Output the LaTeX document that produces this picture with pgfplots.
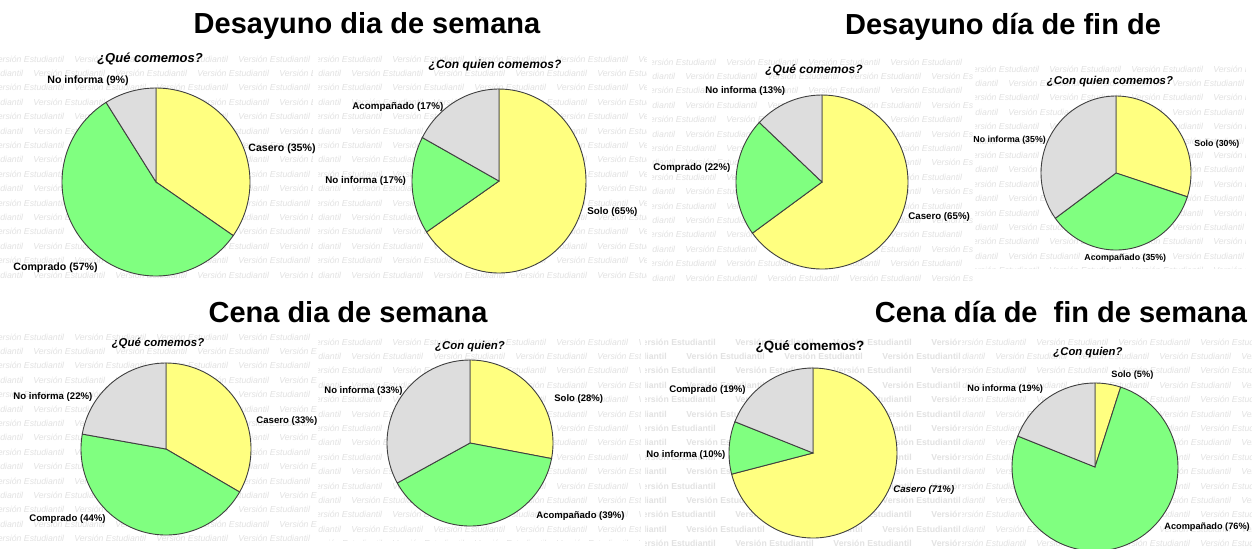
\documentclass[border=0pt]{standalone}
\usepackage{fontspec}
\setmainfont{Liberation Sans}
\usepackage{pgfplots}
\pgfplotsset{compat=1.18}
\definecolor{pyel}{RGB}{255,255,128}
\definecolor{pgrn}{RGB}{128,255,128}
\definecolor{pgry}{RGB}{221,221,221}
\definecolor{wm}{RGB}{226,226,226}

% one slice: cx cy rx ry angle-from angle-to colour
\newcommand\pieslice[7]{%
  \edef\tmp{\noexpand\addplot[fill=#7,draw=black!75,line width=0.45pt,domain=#5:#6,samples=80]
    ({#1+#3*cos(x)},{#2-#4*sin(x)}) -- (axis cs:#1,#2) -- cycle;}\tmp}
% a pie: cx cy rx ry  yellow% green% gray%  (clockwise from 12 o'clock)
\newcommand\pie[7]{%
  \pgfmathsetmacro\psum{#5+#6+#7}%
  \pgfmathsetmacro\aA{90-(3.6*100/\psum)*#5}%
  \pgfmathsetmacro\aB{\aA-(3.6*100/\psum)*#6}%
  \pieslice{#1}{#2}{#3}{#4}{\aA}{90}{pyel}%
  \pieslice{#1}{#2}{#3}{#4}{\aB}{\aA}{pgrn}%
  \pieslice{#1}{#2}{#3}{#4}{-270}{\aB}{pgry}%
}
\newcommand\lbl[4]{\node[anchor=west,inner sep=0pt,font={\fontsize{#1}{#1}\selectfont\bfseries}] at (axis cs:#2,#3) {#4};}
\newcommand\sub[4]{\node[anchor=center,inner sep=0pt,font={\fontsize{#1}{#1}\selectfont\bfseries\itshape}] at (axis cs:#2,#3) {#4};}
\newcommand\ttl[3]{\node[anchor=base,inner sep=0pt,font={\fontsize{14.5}{16}\selectfont\bfseries}] at (axis cs:#1,#2) {#3};}

% watermark rows: x0 y0 x1 y1 font period(pt)
\newcommand\wmark[6]{%
  \begin{scope}
    \clip (#1,#2) rectangle (#3,#4);
    \pgfmathtruncatemacro\nrows{(#4-#2)/14.4}%
    \foreach \k in {0,...,\nrows}{%
      \pgfmathsetmacro\yy{#2+7+14.4*\k}%
      \pgfmathsetmacro\xx{#1-mod(\k,2)*#6-8}%
      \node[anchor=west,inner sep=0pt,font=#5,text=wm] at (\xx,\yy)
        {\makebox[#6pt][l]{Versión Estudiantil}\makebox[#6pt][l]{Versión Estudiantil}\makebox[#6pt][l]{Versión Estudiantil}\makebox[#6pt][l]{Versión Estudiantil}\makebox[#6pt][l]{Versión Estudiantil}\makebox[#6pt][l]{Versión Estudiantil}};
    }
  \end{scope}}

\begin{document}
\begin{tikzpicture}[x=0.5pt,y=-0.5pt]
\useasboundingbox (0,0) rectangle (1252,548);
\fill[white] (0,0) rectangle (1252,548);
% faint watermark of the original software
\wmark{0}{52}{312}{284}{\fontsize{4.35}{5}\selectfont\itshape}{41}
\wmark{318}{52}{646}{284}{\fontsize{4.35}{5}\selectfont\itshape}{41}
\wmark{652}{55}{972}{282}{\fontsize{4.35}{5}\selectfont\itshape}{41}
\wmark{975}{62}{1245}{268}{\fontsize{4.35}{5}\selectfont\itshape}{41}
\wmark{0}{330}{316}{540}{\fontsize{4.35}{5}\selectfont\itshape}{41}
\wmark{318}{335}{640}{540}{\fontsize{4.35}{5}\selectfont\itshape}{41}
\wmark{645}{335}{960}{545}{\fontsize{4.35}{5}\selectfont\bfseries}{49}
\wmark{962}{335}{1252}{548}{\fontsize{4.35}{5}\selectfont\itshape}{41}

\begin{axis}[at={(0,0)},anchor=north west,scale only axis,
  width=626pt,height=274pt,xmin=0,xmax=1252,ymin=0,ymax=548,
  y dir=reverse,hide axis,clip=false]
% ---- Desayuno dia de semana
\pie{156}{182}{94}{94}{35}{57}{9}
\pie{499}{181}{87}{92}{65}{17}{17}
% ---- Desayuno dia de fin de
\pie{822}{182}{86}{87}{65}{22}{13}
\pie{1116}{173}{75}{77}{30}{35}{35}
% ---- Cena dia de semana
\pie{166}{449}{85}{86}{33}{44}{22}
\pie{470}{443}{83}{83}{28}{39}{33}
% ---- Cena dia de fin de semana
\pie{813}{453}{84}{85}{71}{10}{19}
\pie{1095}{467}{83}{84}{5}{76}{19}

\ttl{367}{33}{Desayuno dia de semana}
\ttl{1003}{34}{Desayuno día de fin de}
\ttl{348}{322}{Cena dia de semana}
\ttl{1061}{322}{Cena día de\ \ fin de semana}

\sub{6.5}{150}{59}{¿Qué comemos?}
\lbl{5.3}{47}{81}{No informa (9\%)}
\lbl{5.3}{248}{149}{Casero (35\%)}
\lbl{5.3}{13}{268}{Comprado (57\%)}

\sub{6.0}{495}{65}{¿Con quien comemos?}
\lbl{4.9}{352}{107}{Acompañado (17\%)}
\lbl{4.9}{325}{181}{No informa (17\%)}
\lbl{4.9}{587}{212}{Solo (65\%)}

\sub{6.0}{814}{70}{¿Qué comemos?}
\lbl{4.85}{705}{91}{No informa (13\%)}
\lbl{4.85}{653}{168}{Comprado (22\%)}
\lbl{4.85}{908}{217}{Casero (65\%)}

\sub{5.7}{1110}{82}{¿Con quien comemos?}
\lbl{4.4}{973}{140}{No informa (35\%)}
\lbl{4.4}{1194}{144}{Solo (30\%)}
\lbl{4.4}{1084}{258}{Acompañado (35\%)}

\sub{5.7}{158}{343}{¿Qué comemos?}
\lbl{4.8}{13}{397}{No informa (22\%)}
\lbl{4.8}{256}{421}{Casero (33\%)}
\lbl{4.8}{29}{519}{Comprado (44\%)}

\sub{5.7}{470}{347}{¿Con quien?}
\lbl{4.75}{324}{391}{No informa (33\%)}
\lbl{4.75}{554}{399}{Solo (28\%)}
\lbl{4.75}{536}{516}{Acompañado (39\%)}

\node[anchor=center,inner sep=0pt,font={\fontsize{6.7}{7}\selectfont\bfseries}] at (axis cs:810,347) {¿Qué comemos?};
\lbl{4.8}{669}{390}{Comprado (19\%)}
\lbl{4.8}{646}{455}{No informa (10\%)}
\node[anchor=west,inner sep=0pt,font={\fontsize{4.8}{5}\selectfont\bfseries\itshape}] at (axis cs:893,490) {Casero (71\%)};

\sub{5.65}{1088}{353}{¿Con quien?}
\lbl{4.6}{1111}{375}{Solo (5\%)}
\lbl{4.6}{967}{389}{No informa (19\%)}
\lbl{4.6}{1164}{527}{Acompañado (76\%)}
\end{axis}
\end{tikzpicture}
\end{document}
